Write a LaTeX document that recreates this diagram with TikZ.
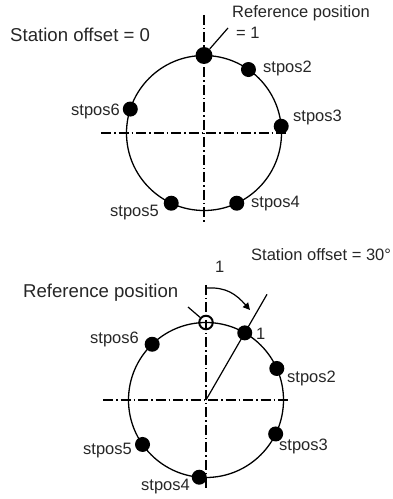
\documentclass[tikz,border=0pt]{standalone}
\usepackage{fontspec}
\setmainfont{Liberation Sans}
\usetikzlibrary{arrows.meta}

\begin{document}
\begin{tikzpicture}[x=1pt,y=1pt,>={Triangle[length=7pt,width=7pt]},
    axis/.style={line width=1.3pt,dash pattern=on 10pt off 3pt on 1.5pt off 3pt},
    dot/.style={circle,fill,inner sep=0pt,minimum size=15pt},
    lbl/.style={font=\fontsize{16.5}{18}\selectfont,inner sep=0pt,anchor=west,text=black!85},
    biglbl/.style={lbl,font=\fontsize{18.6}{20}\selectfont}]
    \useasboundingbox (0,0) rectangle (393,499);
    \def\r{77.5}

    %======================================================
    % station offset = 0
    %======================================================
    \begin{scope}[shift={(204,366)}]
        \coordinate (O1) at (0,0);

        % axes
        \draw[axis] (0,118) -- (0,-89);
        \draw[axis] (-103,0) -- (84,0);

        % circle
        \draw[line width=1.3pt] (O1) circle (\r);

        % stations
        \node[dot,minimum size=17pt] (t1) at (90:\r) {};
        \foreach \a/\n in {55/2,5/3,-65/4,-115/5,162/6}{
            \node[dot] (t\n) at (\a:\r) {};
        }

        % labels
        \node[biglbl] (toff) at (-194,98) {Station offset = 0};
        \node[lbl] (tref) at (28,120) {Reference position};
        \node[lbl] (tone) at (32,100) {= 1};
        \foreach \n/\x/\y in {2/59/65,3/89/16,4/47/-71,5/-94/-80,6/-133/22}{
            \node[lbl] (tl\n) at (\x,\y) {stpos\n};
        }

        % leader
        \coordinate (tlead) at (24,105);
        \draw[line width=1.2pt] (tlead) -- (t1);
    \end{scope}

    %======================================================
    % station offset = 30 degrees
    %======================================================
    \begin{scope}[shift={(206,99)}]
        \coordinate (O2) at (0,0);

        % axes
        \draw[axis] (0,115) -- (0,-88);
        \draw[axis] (-103,0) -- (84,0);

        % circle
        \draw[line width=1.3pt] (O2) circle (\r);

        % reference position (open)
        \node[circle,draw,line width=2pt,inner sep=0pt,minimum size=13.5pt] (b0) at (90:\r) {};

        % stations
        \node[dot] (b1) at (60:\r) {};
        \foreach \a/\n in {24/2,-26/3,-95/4,215/5,134/6}{
            \node[dot] (b\n) at (\a:\r) {};
        }

        % offset line and arrow
        \coordinate (bend) at (60:122);
        \draw[line width=1.2pt] (O2) -- (bend);
        \coordinate (astart) at (1,112);
        \coordinate (atip) at (44,90);
        \draw[->,line width=1.2pt] (astart) .. controls (20,113) and (30,106) .. (atip);

        % labels
        \node[lbl] (bzero) at (9,133) {1};
        \node[lbl] (boff) at (45,145) {Station offset = 30°};
        \node[biglbl] (bref) at (-183,107) {Reference position};
        \node[lbl] (bone) at (50,66) {1};
        \foreach \n/\x/\y in {2/81/22,3/73/-46,4/-65/-87,5/-123/-51,6/-116/61}{
            \node[lbl] (bl\n) at (\x,\y) {stpos\n};
        }

        % leader
        \coordinate (blead) at (-18,93);
        \draw[line width=1.2pt] (blead) -- (b0);
    \end{scope}
\end{tikzpicture}
\end{document}
